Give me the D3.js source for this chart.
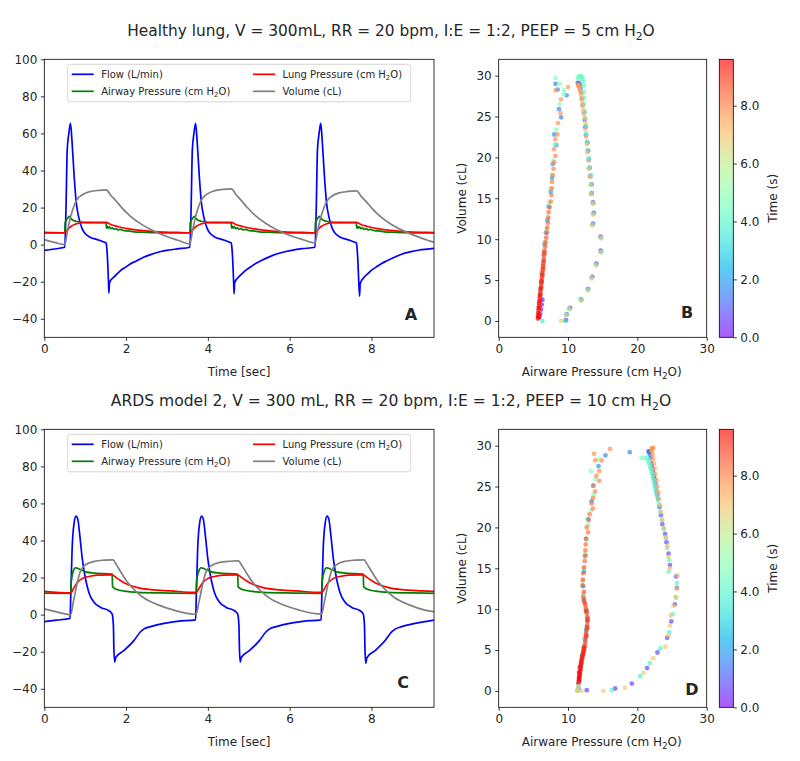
<!DOCTYPE html>
<html><head><meta charset="utf-8">
<script src="https://cdn.jsdelivr.net/npm/d3@7/dist/d3.min.js"></script>
<style>body{margin:0;background:#fff} text{font-family:"DejaVu Sans",sans-serif;fill:#262626}</style>
</head><body><svg id="c" width="800" height="761"></svg>
<script>
// ---------------- DATA ----------------
const titles = ["Healthy lung, V = 300mL, RR = 20 bpm, I:E = 1:2, PEEP = 5 cm H₂O",
                "ARDS model 2, V = 300 mL, RR = 20 bpm, I:E = 1:2, PEEP = 10 cm H₂O"];
const seriesNames = ["Flow (L/min)", "Airway Pressure (cm H₂O)", "Lung Pressure (cm H₂O)", "Volume (cL)"];
const seriesColors = ["#0000ff", "#008000", "#ff0000", "#808080"];
const timeTicks = [0, 2, 4, 6, 8];
const yTicksTS = [-40, -20, 0, 20, 40, 60, 80, 100];
const pTicks = [0, 10, 20, 30];
const vTicks = [0, 5, 10, 15, 20, 25, 30];
const cbTicks = [0, 2, 4, 6, 8];

const flowA = [[0,-3.1],[0.2,-2.5],[0.4,-1.8],[0.5,-1.4],[0.53,19],[0.56,51],[0.6,60],[0.64,65.5],[0.68,55],[0.73,37],[0.78,23],[0.85,14],[0.93,8.4],[1.01,5.7],[1.13,3.9],[1.3,2.7],[1.44,1.6],[1.51,0.9],[1.53,-2.3],[1.55,-9.5],[1.57,-20],[1.58,-26.1],[1.595,-20.5],[1.7,-17.5],[1.8,-15.4],[1.87,-13.9],[2.0,-12.0],[2.11,-10.3],[2.25,-8.8],[2.44,-6.7],[2.6,-5.4],[2.85,-3.7],[3.05,-2.9],[3.25,-2.3],[3.56,-1.4],
[3.59,19],[3.62,51],[3.66,60],[3.70,65.4],[3.74,55],[3.79,37],[3.84,23],[3.91,14],[3.99,8.4],[4.07,5.7],[4.19,3.9],[4.36,2.7],[4.5,1.6],[4.57,0.9],[4.59,-2.3],[4.61,-9.5],[4.63,-20],[4.64,-26.5],[4.655,-20.5],[4.76,-17.3],[4.86,-15.2],[4.93,-13.8],[5.06,-11.8],[5.17,-10.2],[5.31,-8.6],[5.5,-6.6],[5.66,-5.2],[5.91,-3.7],[6.11,-2.8],[6.31,-2.2],[6.62,-1.4],
[6.65,19],[6.68,51],[6.72,60],[6.76,65.4],[6.8,55],[6.85,37],[6.9,23],[6.97,14],[7.05,8.4],[7.13,5.7],[7.25,3.9],[7.42,2.7],[7.56,1.6],[7.63,0.9],[7.65,-2.3],[7.67,-9.5],[7.69,-20],[7.71,-27.8],[7.725,-21],[7.82,-17.6],[7.92,-15.5],[7.99,-14],[8.12,-12],[8.23,-10.4],[8.37,-8.8],[8.56,-6.8],[8.72,-5.3],[8.97,-3.8],[9.17,-2.9],[9.37,-2.4],[9.53,-2.0]];
const airwayA = [[0,6.3],[0.5,6.3],[0.51,11.8],[0.54,13.2],[0.58,14.6],[0.61,15.2],[0.65,14.0],[0.7,13.2],[0.78,12.6],[0.9,12.1],[1.1,11.9],[1.35,11.8],[1.51,11.8],[1.52,8.9],[1.54,9.9],[1.56,9.0],[1.59,9.6],[1.62,8.6],[1.66,9.1],[1.7,8.3],[1.75,8.6],[1.8,8.0],[1.86,8.2],[1.95,7.5],[2.05,7.4],[2.2,6.9],[2.4,6.7],[2.7,6.4],[3.1,6.3],[3.56,6.3],
[3.57,11.8],[3.60,13.2],[3.64,14.6],[3.67,15.2],[3.71,14.0],[3.76,13.2],[3.84,12.6],[3.96,12.1],[4.16,11.9],[4.41,11.8],[4.57,11.8],[4.58,8.9],[4.60,9.9],[4.62,9.0],[4.65,9.6],[4.68,8.6],[4.72,9.1],[4.76,8.3],[4.81,8.6],[4.86,8.0],[4.92,8.2],[5.01,7.5],[5.11,7.4],[5.26,6.9],[5.46,6.7],[5.76,6.4],[6.16,6.3],[6.62,6.3],
[6.63,11.8],[6.66,13.2],[6.70,14.6],[6.73,15.2],[6.77,14.0],[6.82,13.2],[6.90,12.6],[7.02,12.1],[7.22,11.9],[7.47,11.8],[7.63,11.8],[7.64,8.9],[7.66,9.9],[7.68,9.0],[7.71,9.6],[7.74,8.6],[7.78,9.1],[7.82,8.3],[7.87,8.6],[7.92,8.0],[7.98,8.2],[8.07,7.5],[8.17,7.4],[8.32,6.9],[8.52,6.7],[8.82,6.4],[9.22,6.3],[9.53,6.3]];
const lungA = [[0,6.6],[0.5,6.4],[0.57,8.0],[0.65,9.8],[0.77,11.1],[0.93,11.8],[1.1,12.0],[1.51,12.0],[1.62,10.9],[1.79,9.8],[2.03,8.6],[2.36,7.7],[2.77,6.9],[3.25,6.6],[3.56,6.4],
[3.63,8.0],[3.71,9.8],[3.83,11.1],[3.99,11.8],[4.16,12.0],[4.57,12.0],[4.68,10.9],[4.85,9.8],[5.09,8.6],[5.42,7.7],[5.83,6.9],[6.31,6.6],[6.62,6.4],
[6.69,8.0],[6.77,9.8],[6.89,11.1],[7.05,11.8],[7.22,12.0],[7.63,12.0],[7.74,10.9],[7.91,9.8],[8.15,8.6],[8.48,7.7],[8.89,6.9],[9.37,6.6],[9.53,6.5]];
const volumeA = [[0,2.7],[0.25,1.2],[0.5,0.0],[0.56,6.6],[0.65,15.6],[0.73,21.0],[0.81,24.6],[0.93,26.9],[1.09,28.5],[1.3,29.2],[1.52,29.6],[1.62,26.8],[1.75,23.7],[1.91,19.6],[2.11,15.3],[2.36,11.2],[2.6,8.1],[2.93,4.9],[3.25,2.5],[3.56,0.4],
[3.62,7.0],[3.71,16.0],[3.79,21.5],[3.87,25.0],[3.99,27.4],[4.15,29.0],[4.36,29.8],[4.58,30.1],[4.68,27.2],[4.81,24.0],[4.97,19.9],[5.17,15.5],[5.42,11.4],[5.66,8.3],[5.99,5.1],[6.31,2.8],[6.62,0.9],
[6.68,7.0],[6.77,15.4],[6.85,20.6],[6.93,24.0],[7.05,26.4],[7.21,27.9],[7.42,28.7],[7.64,29.0],[7.74,26.3],[7.87,23.2],[8.03,19.2],[8.23,15.0],[8.48,11.0],[8.72,8.1],[9.05,5.0],[9.37,2.4],[9.53,1.3]];

const flowC = [[0,-3.8],[0.3,-3.0],[0.63,-2.0],[0.645,8.4],[0.68,35.3],[0.73,49.6],[0.775,53.2],[0.82,51.4],[0.87,42.4],[0.93,29.9],[1.01,19.1],[1.09,12.0],[1.22,6.6],[1.38,3.9],[1.58,2.1],[1.66,0.3],[1.69,-6.0],[1.70,-16.7],[1.72,-25.6],[1.75,-23.0],[1.95,-19.3],[2.19,-14.0],[2.36,-9.1],[2.44,-7.7],[2.6,-6.5],[2.93,-4.7],[3.25,-3.6],[3.70,-2.8],
[3.715,8.4],[3.75,35.3],[3.80,49.6],[3.845,53.2],[3.89,51.4],[3.94,42.4],[4.0,29.9],[4.08,19.1],[4.16,12.0],[4.29,6.6],[4.45,3.9],[4.65,2.1],[4.73,0.3],[4.76,-6.0],[4.77,-16.7],[4.79,-25.6],[4.82,-23.0],[5.02,-19.3],[5.26,-14.0],[5.43,-9.1],[5.51,-7.7],[5.67,-6.5],[6.0,-4.7],[6.32,-3.6],[6.77,-2.8],
[6.785,8.4],[6.82,35.3],[6.87,49.6],[6.915,53.2],[6.96,51.4],[7.01,42.4],[7.07,29.9],[7.15,19.1],[7.23,12.0],[7.36,6.6],[7.52,3.9],[7.72,2.1],[7.8,0.3],[7.83,-6.0],[7.84,-16.7],[7.86,-26.3],[7.89,-23.2],[8.09,-19.4],[8.33,-14.1],[8.5,-9.2],[8.58,-7.8],[8.74,-6.5],[9.07,-4.7],[9.39,-3.5],[9.53,-3.0]];
const airwayC = [[0,11.6],[0.645,11.5],[0.66,18.0],[0.71,23.6],[0.76,25.3],[0.81,25.0],[0.89,24.2],[1.01,23.1],[1.22,22.4],[1.46,22.1],[1.66,21.9],[1.67,15.0],[1.70,14.5],[1.74,13.8],[1.8,13.4],[1.87,13.0],[1.95,12.7],[2.1,12.3],[2.28,12.0],[2.85,11.7],[3.71,11.5],
[3.725,18.0],[3.78,23.6],[3.83,25.3],[3.88,25.0],[3.96,24.2],[4.08,23.1],[4.29,22.4],[4.53,22.1],[4.73,21.9],[4.74,15.0],[4.77,14.5],[4.81,13.8],[4.87,13.4],[4.94,13.0],[5.02,12.7],[5.17,12.3],[5.35,12.0],[5.92,11.7],[6.78,11.5],
[6.795,18.0],[6.85,23.6],[6.9,25.3],[6.95,25.0],[7.03,24.2],[7.15,23.1],[7.36,22.4],[7.6,22.1],[7.8,21.9],[7.81,15.0],[7.84,14.5],[7.88,13.8],[7.94,13.4],[8.01,13.0],[8.09,12.7],[8.24,12.3],[8.42,12.0],[8.99,11.7],[9.53,11.5]];
const lungC = [[0,12.6],[0.645,11.7],[0.73,14.7],[0.81,17.4],[0.93,19.5],[1.09,20.6],[1.3,21.3],[1.66,21.5],[1.75,20.1],[1.87,18.3],[2.03,16.4],[2.28,14.6],[2.6,13.5],[3.09,12.8],[3.71,12.0],
[3.8,14.7],[3.88,17.4],[4.0,19.5],[4.16,20.6],[4.37,21.3],[4.73,21.5],[4.82,20.1],[4.94,18.3],[5.1,16.4],[5.35,14.6],[5.67,13.5],[6.16,12.8],[6.78,12.0],
[6.87,14.7],[6.95,17.4],[7.07,19.5],[7.23,20.6],[7.44,21.3],[7.8,21.5],[7.89,20.1],[8.01,18.3],[8.17,16.4],[8.42,14.6],[8.74,13.5],[9.23,12.8],[9.53,12.5]];
const volumeC = [[0,3.1],[0.3,1.5],[0.645,0.0],[0.71,6.8],[0.81,17.6],[0.89,23.8],[1.01,26.9],[1.22,28.7],[1.46,29.4],[1.68,29.6],[1.75,27.4],[1.87,23.0],[2.03,17.6],[2.24,12.6],[2.44,9.0],[2.77,5.4],[3.17,2.4],[3.71,0.2],
[3.78,6.6],[3.88,17.2],[3.96,23.3],[4.08,26.4],[4.29,28.2],[4.53,28.8],[4.75,29.0],[4.82,26.9],[4.94,22.6],[5.1,17.3],[5.31,12.4],[5.51,8.9],[5.84,5.3],[6.24,2.4],[6.78,0.3],
[6.85,6.9],[6.95,17.7],[7.03,23.9],[7.15,27.0],[7.36,28.8],[7.6,29.4],[7.82,29.6],[7.89,27.4],[8.01,23.0],[8.17,17.6],[8.38,12.6],[8.58,9.0],[8.91,5.4],[9.31,2.4],[9.53,1.6]];

// scatter points: [airway pressure, volume, time]
const loopB = [
[6.3,2.6,0.02],[6.2,2.0,0.12],[6.1,1.4,0.22],[6.0,0.9,0.32],[5.9,0.5,0.42],
[9.7,0.1,0.51],[9.8,0.8,0.52],[10.3,1.6,0.53],[11.9,2.6,0.545],[12.9,3.9,0.56],[13.5,5.4,0.575],[14.1,7.0,0.59],[14.7,8.6,0.605],[14.7,10.3,0.62],[13.6,11.9,0.635],[13.7,13.2,0.65],[13.6,14.5,0.665],[13.4,15.6,0.68],[13.4,16.7,0.695],[13.2,17.7,0.71],[13.1,18.7,0.725],[13.0,19.7,0.74],[12.9,20.8,0.76],[12.8,21.8,0.78],[12.6,22.7,0.80],[12.5,23.7,0.83],[12.4,24.6,0.86],[12.3,25.5,0.9],[12.1,26.4,0.95],[12.0,27.2,1.0],[11.9,27.9,1.06],[11.8,28.4,1.12],[11.7,28.8,1.2],[11.6,29.0,1.3],[11.5,29.1,1.4],[11.4,29.1,1.5],
[8.2,29.0,1.53],[8.5,28.3,1.55],[9.8,27.6,1.57],[8.7,25.9,1.62],[9.0,24.9,1.66],[8.0,22.8,1.72],[8.3,21.5,1.78],[7.8,19.2,1.88],[7.7,17.5,1.98],[7.5,15.8,2.08],[7.2,14.0,2.2],[7.0,12.3,2.32],[6.8,10.8,2.44],[6.6,9.4,2.56],[6.5,8.1,2.68],[6.4,6.9,2.8],[6.2,5.8,2.92],[6.1,4.8,3.04],[6.0,3.9,3.16],[5.9,3.0,3.28],[5.8,2.2,3.4],[5.8,1.5,3.5],
[6.3,0.0,3.56],[9.6,0.0,3.57],[9.8,0.8,3.58],[10.2,1.5,3.59],[11.8,2.7,3.605],[12.8,3.9,3.62],[13.4,5.3,3.635],[14.0,6.9,3.65],[14.8,8.4,3.665],[14.8,10.2,3.68],[13.5,11.8,3.695],[13.7,13.1,3.71],[13.7,14.4,3.725],[13.4,15.7,3.74],[13.3,16.7,3.755],[13.3,17.8,3.77],[13.1,18.8,3.785],[13.0,19.9,3.80],[12.8,20.9,3.82],[12.7,21.9,3.84],[12.6,22.9,3.86],[12.6,23.9,3.89],[12.5,24.8,3.92],[12.4,25.6,3.96],[12.3,26.5,4.0],[12.3,27.3,4.05],[12.3,28.0,4.1],[12.3,28.8,4.15],[12.2,29.3,4.2],[12.1,29.6,4.26],[12.0,29.8,4.32],[11.9,29.9,4.38],[11.8,29.9,4.44],[11.7,29.9,4.5],[11.6,29.9,4.55],[11.5,29.8,4.58],[11.4,29.7,4.6],
[8.2,29.7,4.62],[8.8,29.0,4.64],[9.4,28.2,4.66],[9.4,27.7,4.68],[8.8,26.5,4.72],[8.3,23.4,4.8],[8.1,21.6,4.86],[7.9,19.6,4.94],[7.7,17.9,5.02],[7.5,16.2,5.12],[7.3,14.4,5.22],[7.1,12.8,5.34],[6.9,11.2,5.46],[6.7,9.7,5.58],[6.5,8.4,5.7],[6.4,7.2,5.82],[6.3,6.1,5.94],[6.2,5.0,6.06],[6.1,4.1,6.18],[6.0,3.2,6.3],[5.9,2.4,6.42],[5.8,1.7,6.52],[5.8,1.0,6.6],
[9.0,0.0,6.62],[9.7,0.7,6.64],[10.1,1.5,6.65],[11.9,2.5,6.665],[12.9,3.7,6.68],[13.4,5.2,6.695],[14.1,6.8,6.71],[14.7,8.4,6.725],[14.8,10.1,6.74],[13.5,11.7,6.755],[13.6,13.0,6.77],[13.6,14.3,6.785],[13.3,15.5,6.8],[13.3,16.6,6.815],[13.2,17.6,6.83],[13.0,18.6,6.845],[12.9,19.6,6.86],[12.8,20.6,6.88],[12.7,21.6,6.9],[12.6,22.5,6.92],[12.5,23.4,6.95],[12.5,24.2,6.98],[12.4,24.8,7.01],[12.3,25.3,7.04],[12.2,25.8,7.08],[12.1,26.3,7.12],[12.0,26.8,7.16],[11.95,27.2,7.2],[11.9,27.6,7.25],[11.8,27.9,7.3],[11.7,28.2,7.36],[11.6,28.5,7.42],[11.55,28.7,7.5],[11.5,28.8,7.58],[11.45,28.9,7.66],
[8.2,28.2,7.69],[10.0,28.6,7.7],[9.0,27.1,7.72],[8.9,25.4,7.76],[8.55,24.2,7.8],[8.46,22.8,7.84],[8.17,22.2,7.87],[7.97,21.0,7.92],[8.17,20.2,7.96],[8.0,19.4,8.0],[7.9,18.6,8.04],[7.8,17.8,8.08],[7.7,17.0,8.12],[7.65,16.2,8.17],[7.6,15.4,8.22],[7.5,14.6,8.27],[7.35,13.9,8.32],[7.2,13.3,8.37],[7.15,12.6,8.42],[7.1,12.0,8.47],[7.0,11.4,8.52],[6.95,10.8,8.57],[6.85,10.2,8.62],[6.75,9.6,8.67],[6.7,9.1,8.72],[6.6,8.6,8.77],[6.6,8.35,8.8],[6.55,8.1,8.82],[6.5,7.6,8.87],[6.5,7.35,8.9],[6.45,7.1,8.92],[6.4,6.7,8.97],[6.4,6.45,8.99],[6.35,6.2,9.02],[6.3,5.8,9.07],[6.3,5.6,9.1],[6.25,5.4,9.12],[6.2,5.0,9.17],[6.2,4.8,9.2],[6.15,4.6,9.22],[6.1,4.2,9.27],[6.1,4.0,9.29],[6.05,3.8,9.31],[6.0,3.4,9.35],[6.0,3.2,9.37],[5.95,3.0,9.39],[5.9,2.6,9.43],[5.95,2.4,9.45],[5.85,2.2,9.46],[5.8,1.8,9.49],[5.85,1.6,9.5],[5.75,1.4,9.51],[5.7,1.0,9.53],[5.8,0.8,9.535],[5.68,0.6,9.54],[5.75,0.45,9.545],[5.66,0.3,9.55]];

const loopD = [
[11.7,2.9,0.02],[11.6,2.2,0.15],[11.6,1.5,0.3],[11.5,0.9,0.45],[11.5,0.3,0.6],
[12.7,0.1,0.66],[16.8,0.3,0.68],[19.2,0.9,0.70],[21.4,2.8,0.72],[22.9,4.7,0.735],[24.3,6.5,0.75],[24.9,8.5,0.765],[25.4,10.6,0.78],[25.7,12.6,0.795],[25.6,14.0,0.81],[24.7,15.4,0.825],[24.5,16.8,0.84],[24.2,18.2,0.86],[24.0,19.2,0.88],[23.6,20.4,0.9],[23.4,21.5,0.92],[23.2,22.5,0.95],[23.0,23.5,0.98],[22.9,24.0,1.0],[22.8,24.4,1.01],[22.7,24.9,1.03],[22.6,25.4,1.05],[22.5,25.9,1.08],[22.4,26.3,1.1],[22.3,26.7,1.13],[22.2,27.1,1.15],[22.1,27.5,1.18],[22.0,27.9,1.2],[21.9,28.5,1.26],[21.8,28.9,1.32],[21.7,29.2,1.4],[21.7,29.3,1.5],[21.6,29.3,1.6],
[18.9,29.2,1.69],[15.4,28.8,1.71],[14.4,27.5,1.74],[13.65,25.1,1.8],[13.4,23.2,1.86],[12.9,21.0,1.93],[12.6,18.6,2.02],[12.5,16.6,2.1],[12.3,14.6,2.2],[12.2,12.8,2.3],[12.3,11.2,2.4],[12.6,9.8,2.52],[12.8,8.6,2.64],[12.6,7.4,2.76],[12.4,6.3,2.88],[12.2,5.3,3.0],[12.0,4.3,3.12],[11.9,3.4,3.24],[11.8,2.6,3.36],[11.7,1.8,3.48],[11.6,1.0,3.6],[11.5,0.4,3.7],
[11.4,0.0,3.71],[16.3,0.1,3.73],[20.4,1.8,3.75],[21.8,3.4,3.77],[23.3,5.2,3.79],[24.6,7.2,3.81],[25.1,9.4,3.83],[25.6,11.4,3.85],[25.7,13.2,3.87],[24.5,14.6,3.89],[24.6,16.0,3.91],[24.3,17.5,3.93],[24.1,18.7,3.95],[23.8,19.8,3.97],[23.5,20.9,3.99],[23.3,21.9,4.02],[23.1,22.8,4.05],[23.0,23.3,4.07],[22.9,23.7,4.08],[22.7,24.2,4.1],[22.6,24.6,4.11],[22.5,25.0,4.13],[22.4,25.4,4.15],[22.3,25.8,4.18],[22.2,26.2,4.2],[22.1,26.6,4.23],[22.0,26.9,4.25],[21.9,27.2,4.28],[21.8,27.5,4.3],[21.7,27.8,4.33],[21.6,28.0,4.36],[21.5,28.3,4.4],[21.4,28.5,4.47],[21.0,28.5,4.55],[20.6,28.5,4.65],
[14.3,28.3,4.76],[13.3,26.9,4.8],[14.0,25.9,4.84],[13.7,24.0,4.9],[13.3,22.0,4.97],[12.9,20.3,5.04],[12.7,18.4,5.12],[12.5,16.8,5.2],[12.3,15.0,5.3],[12.1,13.4,5.4],[12.2,11.8,5.5],[12.5,10.3,5.62],[12.8,9.0,5.74],[12.7,7.8,5.86],[12.5,6.7,5.98],[12.3,5.6,6.1],[12.1,4.6,6.22],[11.9,3.7,6.34],[11.8,2.8,6.46],[11.7,2.0,6.56],[11.6,1.2,6.66],[11.5,0.6,6.72],[11.4,0.2,6.76],[11.3,0.0,6.78],
[11.9,0.0,6.79],[15.1,0.0,6.81],[18.2,0.4,6.83],[20.9,2.2,6.85],[22.3,4.0,6.87],[24.0,5.4,6.89],[24.5,6.8,6.91],[24.7,8.0,6.93],[24.8,9.2,6.95],[25.2,10.4,6.97],[25.5,11.5,6.99],[25.7,12.5,7.01],[25.8,14.1,7.03],[24.7,15.0,7.05],[24.5,16.4,7.07],[24.3,17.7,7.09],[24.1,18.8,7.11],[23.8,19.9,7.13],[23.6,20.9,7.16],[23.4,21.9,7.19],[23.3,22.7,7.22],[23.1,23.5,7.26],[23.0,24.3,7.3],[22.9,25.0,7.35],[22.8,25.8,7.4],[22.6,26.5,7.45],[22.5,27.2,7.5],[22.4,27.8,7.55],[22.3,28.4,7.6],[22.2,28.9,7.65],[22.1,29.3,7.7],[22.0,29.6,7.75],[22.2,29.7,7.8],[22.3,29.7,7.82],
[16.06,29.6,7.84],[13.75,29.0,7.86],[13.9,28.2,7.88],[14.85,28.2,7.9],[14.5,26.9,7.93],[14.1,26.3,7.96],[14.5,25.7,7.99],[13.65,25.1,8.02],[13.9,24.4,8.05],[13.6,23.6,8.08],[13.4,22.9,8.11],[13.6,22.3,8.14],[13.1,21.6,8.17],[13.0,20.9,8.2],[12.7,20.0,8.24],[12.9,19.4,8.28],[12.6,18.6,8.32],[12.55,17.9,8.36],[12.5,17.2,8.4],[12.45,16.5,8.44],[12.4,15.9,8.48],[12.3,15.1,8.52],[12.2,14.4,8.56],[12.15,13.6,8.6],[12.1,12.9,8.64],[12.3,12.1,8.68],[12.2,11.5,8.72],[12.3,11.0,8.76],[12.4,10.75,8.78],[12.5,10.5,8.8],[12.6,10.0,8.84],[12.65,9.75,8.86],[12.7,9.5,8.88],[12.8,9.0,8.92],[12.8,8.75,8.94],[12.8,8.5,8.96],[12.75,8.0,9.0],[12.75,7.75,9.02],[12.7,7.5,9.04],[12.6,7.0,9.08],[12.65,6.75,9.1],[12.55,6.5,9.12],[12.5,6.0,9.16],[12.4,5.5,9.2],[12.35,5.3,9.22],[12.3,5.1,9.24],[12.25,4.9,9.26],[12.2,4.7,9.28],[12.15,4.5,9.3],[12.1,4.3,9.32],[12.05,4.1,9.34],[12.0,3.9,9.36],[11.95,3.7,9.38],[11.9,3.5,9.4],[11.9,3.3,9.42],[11.85,3.1,9.43],[11.8,2.9,9.45],[11.8,2.7,9.46],[11.75,2.5,9.48],[11.7,2.3,9.49],[11.7,2.1,9.5],[11.65,1.9,9.51],[11.6,1.7,9.52],[11.6,1.5,9.53],[11.6,1.3,9.54],[11.55,1.1,9.55]];

const panelLetters = ["A", "B", "C", "D"];

// ---------------- DRAWING ----------------
const svg = d3.select("#c");
const INK = "#262626";
const tMax = 9.53, cbMax = 9.6;

function rainbow(x) {
  x = Math.max(0, Math.min(1, x));
  const r = Math.min(1, Math.abs(2 * x - 0.5)), g = Math.sin(Math.PI * x), b = Math.cos(Math.PI * x / 2);
  return d3.rgb(r * 255, g * 255, b * 255).formatHex();
}

function addText(g, str, attrs, size) {
  const t = g.append("text");
  Object.entries(attrs).forEach(([k, v]) => t.attr(k, v));
  t.attr("font-size", size);
  const parts = str.split("₂");
  t.append("tspan").text(parts[0]);
  if (parts.length > 1) {
    t.append("tspan").attr("dy", size * 0.25).attr("font-size", size * 0.7).text("2");
    t.append("tspan").attr("dy", -size * 0.25).text(parts[1]);
  }
  return t;
}

function styleAxis(g) {
  g.selectAll("path.domain").remove();
  g.selectAll("line").attr("stroke", "#000").attr("stroke-width", 0.8);
  g.selectAll("text").attr("font-size", 12).attr("font-family", "DejaVu Sans").attr("fill", INK);
}

const rows = [
  {top: 59.3, bottom: 337.3, ts: [flowA, airwayA, lungA, volumeA], loop: loopB, letters: [[411, 314], [687, 312]]},
  {top: 429.3, bottom: 707.3, ts: [flowC, airwayC, lungC, volumeC], loop: loopD, letters: [[403, 682], [692, 689]]}
];
const tsL = 44.3, tsR = 434, scL = 498.7, scR = 706.7, cbL = 719.3, cbR = 733.3;

const defs = svg.append("defs");
const grad = defs.append("linearGradient").attr("id", "cbgrad").attr("x1", 0).attr("y1", 1).attr("x2", 0).attr("y2", 0);
d3.range(0, 1.0001, 0.05).forEach(s => grad.append("stop").attr("offset", s).attr("stop-color", rainbow(s)));

titles.forEach((tt, i) => {
  const cy = i === 0 ? 36 : 406;
  const t = addText(svg, tt, {x: 391, y: cy, "text-anchor": "middle"}, 16);
  const targetW = i === 0 ? 528 : 561;
  const w = t.node().getComputedTextLength();
  const sx = targetW / w;
  t.attr("transform", `translate(391,0) scale(${sx},1) translate(-391,0)`);
});

rows.forEach((row, ri) => {
  // ---------- time series ----------
  const x = d3.scaleLinear().domain([0, tMax]).range([tsL, tsR]);
  const y = d3.scaleLinear().domain([-50, 100]).range([row.bottom, row.top]);
  const cid = "clipTS" + ri;
  defs.append("clipPath").attr("id", cid).append("rect")
    .attr("x", tsL).attr("y", row.top).attr("width", tsR - tsL).attr("height", row.bottom - row.top);
  const gts = svg.append("g");
  const line = d3.line().x(d => x(d[0])).y(d => y(d[1])).curve(d3.curveMonotoneX);
  row.ts.forEach((s, si) => {
    gts.append("path").datum(s).attr("d", line).attr("fill", "none")
      .attr("stroke", seriesColors[si]).attr("stroke-width", 1.7)
      .attr("stroke-linejoin", "round").attr("clip-path", `url(#${cid})`);
  });
  svg.append("g").attr("transform", `translate(0,${row.bottom})`)
    .call(d3.axisBottom(x).tickValues(timeTicks).tickSize(3.5).tickPadding(3.5).tickFormat(d3.format("d"))).call(styleAxis);
  svg.append("g").attr("transform", `translate(${tsL},0)`)
    .call(d3.axisLeft(y).tickValues(yTicksTS).tickSize(3.5).tickPadding(3.5).tickFormat(d3.format("d"))).call(styleAxis);
  svg.append("rect").attr("x", tsL).attr("y", row.top).attr("width", tsR - tsL).attr("height", row.bottom - row.top)
    .attr("fill", "none").attr("stroke", "#000").attr("stroke-width", 0.8);
  svg.append("text").attr("x", (tsL + tsR) / 2).attr("y", row.bottom + 39).attr("text-anchor", "middle")
    .attr("font-size", 12).text("Time [sec]");

  const lg = svg.append("g");
  const lx0 = 67.7, ly0 = row.top + 5;
  lg.append("rect").attr("x", lx0).attr("y", ly0).attr("width", 343).attr("height", 37.5).attr("rx", 2.5)
    .attr("fill", "#fff").attr("fill-opacity", 0.8).attr("stroke", "#cccccc").attr("stroke-width", 0.8);
  seriesNames.forEach((nm, k) => {
    const col = Math.floor(k / 2), r = k % 2;
    const xx = col === 0 ? 71.7 : 253;
    const yy = row.top + 15 + r * 17;
    lg.append("line").attr("x1", xx).attr("x2", xx + 22).attr("y1", yy).attr("y2", yy)
      .attr("stroke", seriesColors[k]).attr("stroke-width", 1.7);
    addText(lg, nm, {x: xx + 29.5, y: yy + 3.6}, 10);
  });
  const la = row.letters[0];
  svg.append("text").attr("x", la[0]).attr("y", la[1] + 6).attr("text-anchor", "middle")
    .attr("font-size", 16).attr("font-weight", "bold").attr("fill", "#000").text(panelLetters[ri * 2]);

  // ---------- loop scatter ----------
  const px = d3.scaleLinear().domain([0, 30]).range([scL, scR]);
  const py = d3.scaleLinear().domain([-2, 32]).range([row.bottom, row.top]);
  const cs = d3.scaleLinear().domain([0, cbMax]).range([0, 1]);
  const sid = "clipSC" + ri;
  defs.append("clipPath").attr("id", sid).append("rect")
    .attr("x", scL).attr("y", row.top).attr("width", scR - scL).attr("height", row.bottom - row.top);
  svg.append("g").attr("clip-path", `url(#${sid})`).selectAll("circle").data(row.loop).join("circle")
    .attr("cx", d => px(d[0])).attr("cy", d => py(d[1])).attr("r", 2.4)
    .attr("fill", d => rainbow(cs(d[2]))).attr("fill-opacity", 0.65);
  svg.append("g").attr("transform", `translate(0,${row.bottom})`)
    .call(d3.axisBottom(px).tickValues(pTicks).tickSize(3.5).tickPadding(3.5)).call(styleAxis);
  svg.append("g").attr("transform", `translate(${scL},0)`)
    .call(d3.axisLeft(py).tickValues(vTicks).tickSize(3.5).tickPadding(3.5)).call(styleAxis);
  svg.append("rect").attr("x", scL).attr("y", row.top).attr("width", scR - scL).attr("height", row.bottom - row.top)
    .attr("fill", "none").attr("stroke", "#000").attr("stroke-width", 0.8);
  addText(svg, "Airware Pressure (cm H₂O)", {x: (scL + scR) / 2 - 1, y: row.bottom + 39, "text-anchor": "middle"}, 12);
  svg.append("text").attr("transform", `translate(466,${(row.top + row.bottom) / 2}) rotate(-90)`)
    .attr("text-anchor", "middle").attr("font-size", 12).text("Volume (cL)");
  const lb = row.letters[1];
  svg.append("text").attr("x", lb[0]).attr("y", lb[1] + 6).attr("text-anchor", "middle")
    .attr("font-size", 16).attr("font-weight", "bold").attr("fill", "#000").text(panelLetters[ri * 2 + 1]);

  // ---------- colorbar ----------
  const cy = d3.scaleLinear().domain([0, cbMax]).range([row.bottom, row.top]);
  svg.append("rect").attr("x", cbL).attr("y", row.top).attr("width", cbR - cbL).attr("height", row.bottom - row.top)
    .attr("fill", "url(#cbgrad)").attr("fill-opacity", 0.65);
  svg.append("rect").attr("x", cbL).attr("y", row.top).attr("width", cbR - cbL).attr("height", row.bottom - row.top)
    .attr("fill", "none").attr("stroke", "#000").attr("stroke-width", 0.8);
  svg.append("g").attr("transform", `translate(${cbR},0)`)
    .call(d3.axisRight(cy).tickValues(cbTicks).tickSize(3.5).tickPadding(3.5).tickFormat(d3.format(".1f"))).call(styleAxis);
  svg.append("text").attr("transform", `translate(777,${(row.top + row.bottom) / 2}) rotate(-90)`)
    .attr("text-anchor", "middle").attr("font-size", 12).text("Time (s)");
});
</script>
</body></html>
